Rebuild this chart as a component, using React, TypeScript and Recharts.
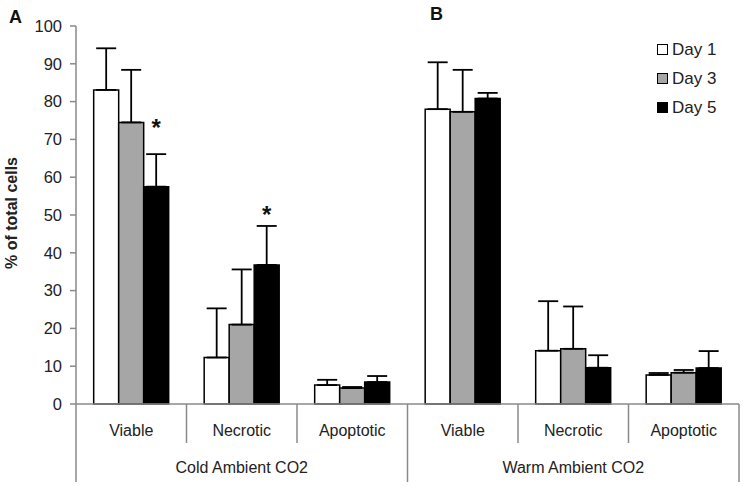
import { BarChart, Bar, XAxis, YAxis, ErrorBar, LabelList } from "recharts";

const categories = ["Viable", "Necrotic", "Apoptotic", "Viable", "Necrotic", "Apoptotic"];
const groups = ["Cold Ambient CO2", "Warm Ambient CO2"];
const seriesNames = ["Day 1", "Day 3", "Day 5"];
const day1 = [83.1, 12.3, 5.0, 78.0, 14.1, 7.7];
const day1Top = [94.1, 25.3, 6.4, 90.4, 27.2, 8.2];
const day3 = [74.5, 21.0, 4.2, 77.3, 14.6, 8.3];
const day3Top = [88.4, 35.6, 4.5, 88.4, 25.8, 9.0];
const day5 = [57.5, 36.8, 5.8, 80.8, 9.6, 9.5];
const day5Top = [66.1, 47.1, 7.4, 82.3, 12.9, 14.0];
// level (in % units) where the significance star sits
const starLevel = [73.8, 50.8, null, null, null, null];
const yTicks = [0, 10, 20, 30, 40, 50, 60, 70, 80, 90, 100];

const data = categories.map((cat, i) => ({
  cat,
  group: groups[i < 3 ? 0 : 1],
  d1: day1[i],
  d3: day3[i],
  d5: day5[i],
  e1: [0, +(day1Top[i] - day1[i]).toFixed(1)],
  e3: [0, +(day3Top[i] - day3[i]).toFixed(1)],
  e5: [0, +(day5Top[i] - day5[i]).toFixed(1)],
}));

const FONT = '"Liberation Sans", Arial, Helvetica, sans-serif';
const AXIS = "#8a8a8a";
const TXT = "#222";
const FILLS = ["#ffffff", "#a6a6a6", "#000000"];

const CatTick = (props: any) => {
  const { x, y, payload, index } = props;
  const half = payload?.offset || 55.25;
  const isGroupEnd = index === 2 || index === 5;
  return (
    <g>
      <text x={x} y={y + 32} textAnchor="middle" fontSize={16} fontFamily={FONT} fill={TXT}>
        {payload.value}
      </text>
      {index === 0 && <line x1={x - half} x2={x - half} y1={y} y2={y + 78} stroke={AXIS} strokeWidth={1.5} />}
      <line x1={x + half} x2={x + half} y1={y} y2={y + (isGroupEnd ? 78 : 39)} stroke={AXIS} strokeWidth={1.5} />
      {(index === 1 || index === 4) && (
        <text x={x} y={y + 69} textAnchor="middle" fontSize={16} fontFamily={FONT} fill={TXT}>
          {data[index].group}
        </text>
      )}
    </g>
  );
};

const Star = (props: any) => {
  const { x, y, width, height, value, index } = props;
  const lvl = starLevel[index];
  if (lvl == null || !value) return null;
  const perUnit = height / value;
  const sy = y + height - lvl * perUnit;
  return (
    <text x={x + width / 2} y={sy + 11} textAnchor="middle" fontSize={24} fontWeight="bold" fontFamily={FONT} fill="#111">
      *
    </text>
  );
};

const YLabel = (props: any) => {
  const vb = props.viewBox || { y: 26, height: 378 };
  const cy = vb.y + vb.height / 2 - 2;
  return (
    <text x={17} y={cy} transform={`rotate(-90, 17, ${cy})`} textAnchor="middle" fontSize={16} fontWeight="bold" fontFamily={FONT} fill={TXT}>
      % of total cells
    </text>
  );
};

const errProps = { width: 10, stroke: "#000", strokeWidth: 1.8, direction: "y" as const };

export default function App() {
  return (
    <div style={{ position: "absolute", left: 0, top: 0, width: 746, height: 487, background: "#fff" }}>
      <div style={{ position: "absolute", left: 9, top: 7, fontFamily: FONT, fontWeight: "bold", fontSize: 18, color: "#111" }}>A</div>
      <div style={{ position: "absolute", left: 430, top: 4, fontFamily: FONT, fontWeight: "bold", fontSize: 18, color: "#111" }}>B</div>
      <div style={{ position: "absolute", left: 657, top: 35, fontFamily: FONT, fontSize: 17, color: TXT, zIndex: 2 }}>
        {seriesNames.map((name, i) => (
          <div key={name} style={{ display: "flex", alignItems: "center", height: 29 }}>
            <span style={{ width: 9, height: 9, background: FILLS[i], border: "1.5px solid #000", marginRight: 4, display: "inline-block" }} />
            <span>{name}</span>
          </div>
        ))}
      </div>
      <BarChart
        width={746}
        height={487}
        data={data}
        margin={{ top: 26, right: 7, left: 0, bottom: 5 }}
        barCategoryGap="16%"
        barGap={0}
      >
        <XAxis
          dataKey="cat"
          height={78}
          tick={<CatTick />}
          tickLine={false}
          tickSize={0}
          tickMargin={0}
          interval={0}
          axisLine={{ stroke: AXIS, strokeWidth: 1.5 }}
        />
        <YAxis
          width={76}
          domain={[0, 100]}
          ticks={yTicks}
          interval={0}
          tickSize={6}
          tickMargin={8}
          axisLine={{ stroke: AXIS, strokeWidth: 1.5 }}
          tickLine={{ stroke: AXIS, strokeWidth: 1.5 }}
          tick={{ fontSize: 16.5, fontFamily: FONT, fill: TXT }}
          label={<YLabel />}
        />
        <Bar dataKey="d1" name={seriesNames[0]} fill={FILLS[0]} stroke="#000" strokeWidth={1.5} isAnimationActive={false}>
          <ErrorBar dataKey="e1" {...errProps} />
        </Bar>
        <Bar dataKey="d3" name={seriesNames[1]} fill={FILLS[1]} stroke="#000" strokeWidth={1.5} isAnimationActive={false}>
          <ErrorBar dataKey="e3" {...errProps} />
        </Bar>
        <Bar dataKey="d5" name={seriesNames[2]} fill={FILLS[2]} stroke="#000" strokeWidth={1.5} isAnimationActive={false}>
          <ErrorBar dataKey="e5" {...errProps} />
          <LabelList dataKey="d5" content={<Star />} />
        </Bar>
      </BarChart>
    </div>
  );
}
